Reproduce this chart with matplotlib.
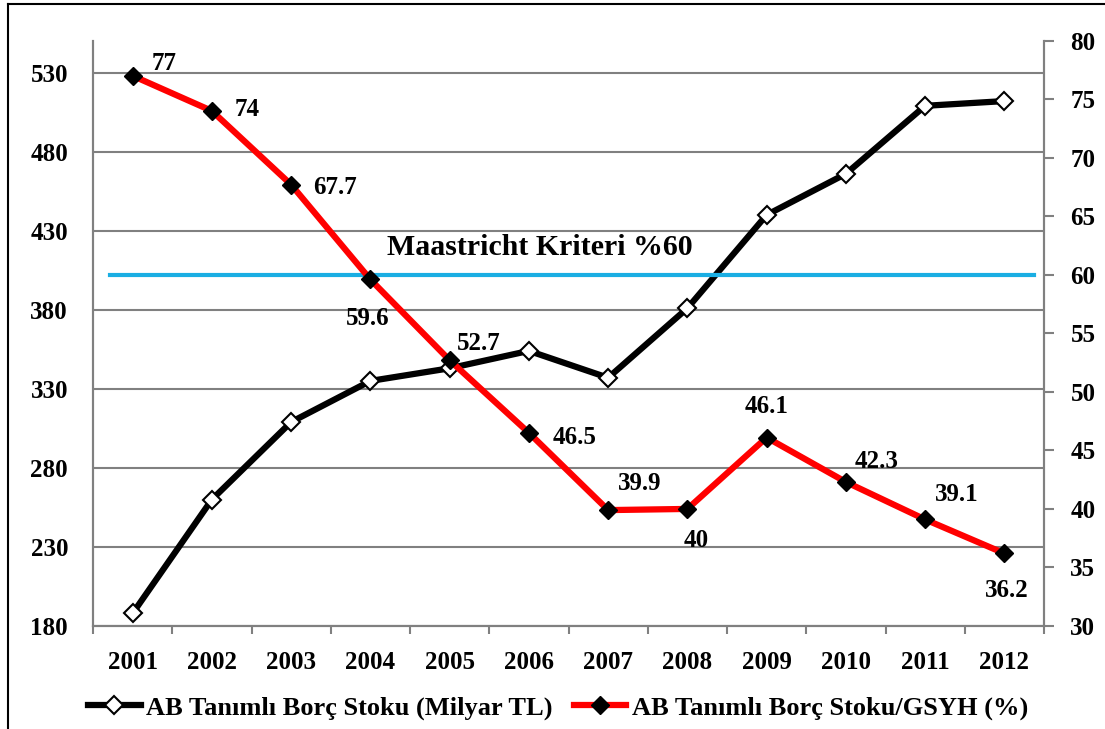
import matplotlib.pyplot as plt
from matplotlib.lines import Line2D
from matplotlib.ticker import FixedLocator

plt.rcParams['font.family'] = ['Liberation Serif', 'DejaVu Serif']
plt.rcParams['font.weight'] = 'bold'

# Veriler
yillar = ['2001', '2002', '2003', '2004', '2005', '2006',
          '2007', '2008', '2009', '2010', '2011', '2012']
borc_stoku = [188, 260, 309, 335, 343, 354, 337, 381, 440, 466, 509, 512]
borc_gsyh = [77, 74, 67.7, 59.6, 52.7, 46.5, 39.9, 40, 46.1, 42.3, 39.1, 36.2]
etiketler = ['77', '74', '67.7', '59.6', '52.7', '46.5', '39.9', '40', '46.1', '42.3', '39.1', '36.2']
maastricht = 60

sol_ticks = [180, 230, 280, 330, 380, 430, 480, 530]
sag_ticks = [30, 35, 40, 45, 50, 55, 60, 65, 70, 75, 80]

# etiket kaydirmalari (punto) ve hizalama
ofsetler = [(14, 9), (16, 1), (16, -2), (-2, -28), (5, 12), (17, -3),
            (7, 19), (6, -23), (0, 22), (6, 15), (7, 18), (2, -27)]
hizalar = ['left', 'left', 'left', 'center', 'left', 'left',
           'left', 'center', 'center', 'left', 'left', 'center']

fig = plt.figure(figsize=(11.05, 7.29), dpi=100)
ax = fig.add_axes([0.0842, 0.1413, 0.8606, 0.8029])
ax2 = ax.twinx()

x = list(range(len(yillar)))
gri = '#808080'

ax.plot(x, borc_stoku, color='black', lw=4.5, marker='D', ms=9,
        mfc='white', mec='black', mew=1.5, zorder=3)
ax.set_ylim(180, 550.2)
ax.yaxis.set_major_locator(FixedLocator(sol_ticks))
ax.grid(axis='y', color=gri, lw=1.5)
ax.set_axisbelow(True)
ax.set_xlim(-0.5, len(yillar) - 0.5)
ax.set_xticks(x)
ax.set_xticklabels(yillar)
ax.xaxis.set_minor_locator(FixedLocator([i - 0.5 for i in range(len(yillar) + 1)]))
ax.tick_params(axis='x', which='major', length=0, pad=18, labelsize=18)
ax.tick_params(axis='x', which='minor', length=6, width=1.5, color=gri)
ax.tick_params(axis='y', length=0, pad=18, labelsize=18)

ax2.axhline(maastricht, xmin=0.018, xmax=0.99, color='#1AAEE3', lw=3, zorder=2)
ax2.plot(x, borc_gsyh, color='#FF0000', lw=4.5, marker='D', ms=9,
         mfc='black', mec='black', zorder=4)
ax2.set_ylim(30, 80)
ax2.yaxis.set_major_locator(FixedLocator(sag_ticks))
ax2.tick_params(axis='y', length=7, width=1.5, color=gri, pad=12, labelsize=18)
ax2.text(5.14, 61.2, 'Maastricht Kriteri %60', ha='center', va='bottom',
         fontsize=21.5, fontweight='bold')

for i, (v, t) in enumerate(zip(borc_gsyh, etiketler)):
    dx, dy = ofsetler[i]
    ax2.annotate(t, (i, v), xytext=(dx, dy), textcoords='offset points',
                 ha=hizalar[i], va='center', fontsize=18, fontweight='bold')

for a in (ax, ax2):
    for s in a.spines.values():
        s.set_color(gri)
        s.set_linewidth(1.5)
    a.spines['top'].set_visible(False)

h1 = Line2D([], [], color='black', lw=4.5, marker='D', ms=9, mfc='white', mec='black', mew=1.5)
h2 = Line2D([], [], color='#FF0000', lw=4.5, marker='D', ms=9, mfc='black', mec='black')
fig.legend([h1, h2], ['AB Tanımlı Borç Stoku (Milyar TL)', 'AB Tanımlı Borç Stoku/GSYH (%)'],
           loc='center', bbox_to_anchor=(0.505, 0.029), ncol=2, frameon=False,
           fontsize=19, handlelength=2.0, handletextpad=0.2, columnspacing=0.8)

# cerceve
fig.add_artist(Line2D([0.0075, 0.0075], [0, 0.994], color='black', lw=1.5, transform=fig.transFigure))
fig.add_artist(Line2D([0.0075, 1], [0.994, 0.994], color='black', lw=1.5, transform=fig.transFigure))

fig.savefig('out.png', dpi=100)
